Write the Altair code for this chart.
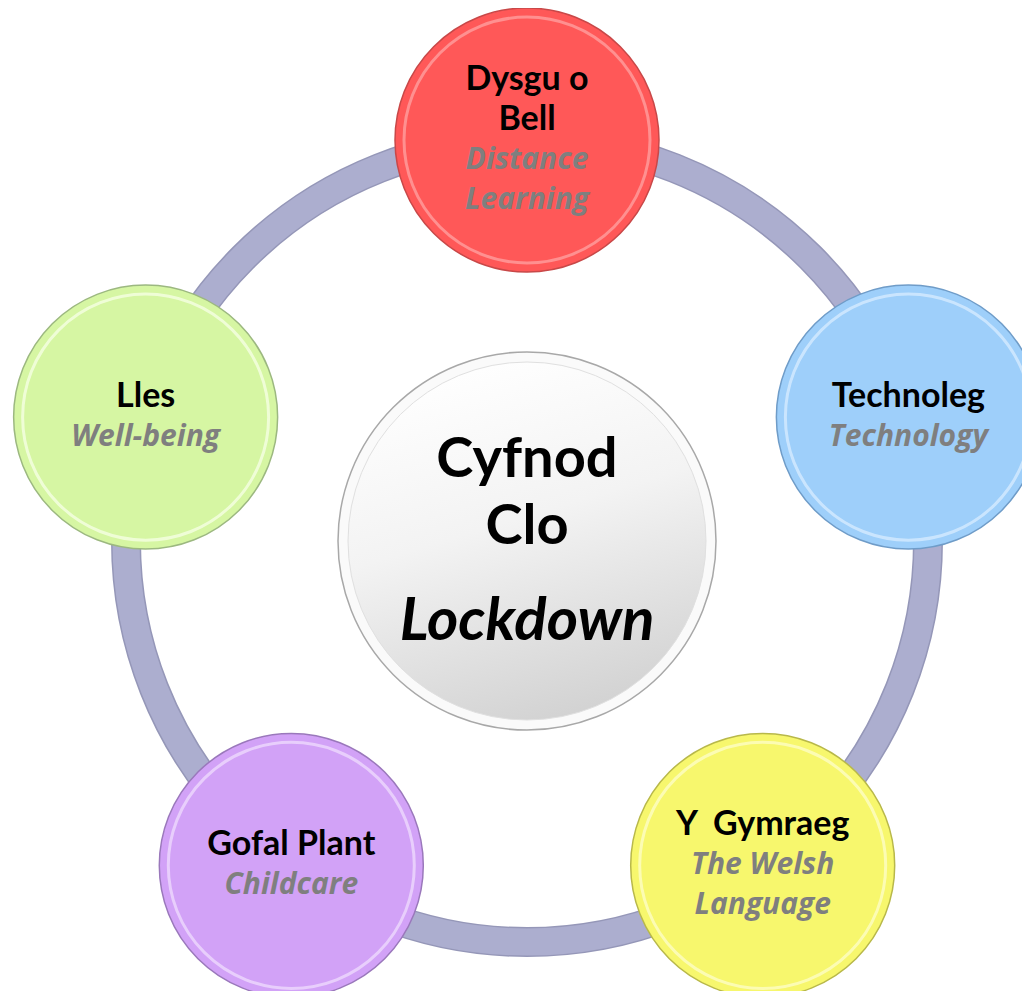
import math
import pandas as pd
import altair as alt

# ---- data ----
ring_radius = 401
node_angles = [90, 18, -54, -126, 162]
node_welsh = [["Dysgu o", "Bell"], ["Technoleg"], ["Y\u00a0 Gymraeg"], ["Gofal Plant"], ["Lles"]]
node_english = [["Distance", "Learning"], ["Technology"], ["The Welsh", "Language"], ["Childcare"], ["Well-being"]]
node_base = ["#ff5858", "#9ecffa", "#f7f76d", "#d2a2f7", "#d6f6a3"]
node_rim = ["#ff9a9a", "#d2eaff", "#fdfdc0", "#ecd6fd", "#f4ffe0"]
node_edge = ["#c84848", "#6f9cc8", "#b8b84a", "#9a78bb", "#9cb880"]
node_radius = 132
center_radius = 189
center_lines = ["Cyfnod", "Clo", "Lockdown"]
center_line_y = [81, 14, -81]
center_line_italic = [False, False, True]
line_gap = 40

# ---- tables ----
nodes = pd.DataFrame({
    "angle": node_angles,
    "base": node_base,
    "rim": node_rim,
    "edge": node_edge,
})
nodes["x"] = [ring_radius * math.cos(math.radians(a)) for a in node_angles]
nodes["y"] = [ring_radius * math.sin(math.radians(a)) for a in node_angles]

rows = []
for i, (w, e) in enumerate(zip(node_welsh, node_english)):
    lines = [(t, "welsh") for t in w] + [(t, "english") for t in e]
    n = len(lines)
    for j, (t, kind) in enumerate(lines):
        rows.append({
            "text": t,
            "kind": kind,
            "x": nodes.loc[i, "x"],
            "y": nodes.loc[i, "y"] + ((n - 1) / 2 - j) * line_gap,
        })
node_text = pd.DataFrame(rows)

center = pd.DataFrame({"x": [0.0], "y": [0.0]})
center_text = pd.DataFrame({
    "text": center_lines,
    "x": [0.0] * len(center_lines),
    "y": center_line_y,
    "italic": center_line_italic,
})

xs = alt.Scale(domain=[-519, 495], nice=False, zero=False)
ys = alt.Scale(domain=[-450, 533], nice=False, zero=False)
X = alt.X("x:Q", scale=xs, axis=None)
Y = alt.Y("y:Q", scale=ys, axis=None)


def size_of(r):
    return (2 * r) ** 2


ring_edge = alt.Chart(center).mark_point(
    shape="circle", filled=False, stroke="#9597b8", strokeWidth=30,
    size=size_of(ring_radius), opacity=1
).encode(x=X, y=Y)
ring_main = alt.Chart(center).mark_point(
    shape="circle", filled=False, stroke="#acaecf", strokeWidth=27,
    size=size_of(ring_radius), opacity=1
).encode(x=X, y=Y)

grad = alt.LinearGradient(
    gradient="linear",
    stops=[alt.GradientStop(color="#ffffff", offset=0),
           alt.GradientStop(color="#f3f3f3", offset=0.45),
           alt.GradientStop(color="#d2d2d2", offset=1)],
    x1=0.3, x2=0.6, y1=0, y2=1,
)
c_base = alt.Chart(center).mark_circle(
    color="#fafafa", opacity=1, size=size_of(center_radius),
    stroke="#a8a8a8", strokeWidth=1.5
).encode(x=X, y=Y)
c_inner = alt.Chart(center).mark_circle(
    color=grad, opacity=1, size=size_of(center_radius - 10),
    stroke="#e0e0e0", strokeWidth=1
).encode(x=X, y=Y)

n_base = alt.Chart(nodes).mark_circle(
    opacity=1, size=size_of(node_radius), strokeWidth=1.5
).encode(
    x=X, y=Y,
    color=alt.Color("base:N", scale=None),
    stroke=alt.Stroke("edge:N", scale=None),
)
n_hl = alt.Chart(nodes).mark_point(
    shape="circle", filled=False, opacity=0.85, size=size_of(node_radius - 9), strokeWidth=3
).encode(
    x=X, y=Y,
    color=alt.Color("rim:N", scale=None),
)

welsh = alt.Chart(node_text).transform_filter(alt.datum.kind == "welsh").mark_text(
    font="Lato", fontSize=34, fontWeight="bold", color="#000000",
    baseline="middle", align="center"
).encode(x=X, y=Y, text="text:N")
english = alt.Chart(node_text).transform_filter(alt.datum.kind == "english").mark_text(
    font="Open Sans", fontSize=30, fontWeight="bold", fontStyle="italic", color="#7f7f7f",
    baseline="middle", align="center"
).encode(x=X, y=Y, text="text:N")

c_bold = alt.Chart(center_text).transform_filter(alt.datum.italic == False).mark_text(
    font="Lato", fontSize=56, fontWeight="bold", color="#000000",
    baseline="middle", align="center"
).encode(x=X, y=Y, text="text:N")
c_ital = alt.Chart(center_text).transform_filter(alt.datum.italic == True).mark_text(
    font="Lato", fontSize=60, fontWeight="bold", fontStyle="italic", color="#000000",
    baseline="middle", align="center"
).encode(x=X, y=Y, text="text:N")

chart = alt.layer(
    ring_edge, ring_main, c_base, c_inner,
    n_base, n_hl, welsh, english, c_bold, c_ital
).properties(
    width=1014, height=983, padding=0, background="white",
    autosize=alt.AutoSizeParams(type="none"),
).configure_view(stroke=None)

chart.save("out.html", embed_options={"renderer": "svg", "actions": False})
